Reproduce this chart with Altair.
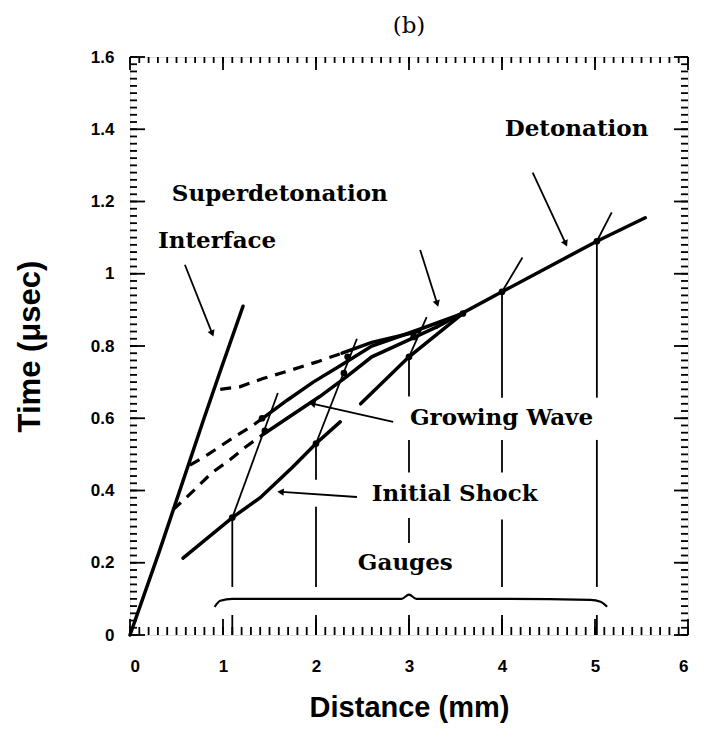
import math
import altair as alt
import pandas as pd

# ---------------- data (Distance mm, Time usec) ----------------
interface_x = [0.0, 0.32, 0.79, 0.97, 1.215]
interface_y = [0.0, 0.235, 0.595, 0.73, 0.91]

growA_x = [1.40, 1.69, 1.97, 2.26, 2.60, 3.10, 3.58]
growA_y = [0.595, 0.65, 0.70, 0.745, 0.80, 0.845, 0.89]
growB_x = [1.43, 1.69, 2.04, 2.33, 2.60, 2.94, 3.30]
growB_y = [0.555, 0.60, 0.66, 0.715, 0.77, 0.81, 0.853]
superC_x = [2.28, 2.60, 3.10]
superC_y = [0.78, 0.81, 0.84]

shock1_x = [0.57, 1.10, 1.40, 1.75, 2.00, 2.26]
shock1_y = [0.213, 0.325, 0.38, 0.465, 0.53, 0.59]
shock2_x = [2.48, 3.00, 3.58]
shock2_y = [0.64, 0.77, 0.89]

deton_x = [3.30, 4.00, 5.02, 5.54]
deton_y = [0.853, 0.95, 1.09, 1.155]

dash_lo_x = [0.46, 0.67, 0.88, 1.075, 1.24, 1.43]
dash_lo_y = [0.346, 0.396, 0.449, 0.485, 0.52, 0.555]
dash_mid_x = [0.645, 0.84, 1.15, 1.32, 1.40]
dash_mid_y = [0.47, 0.50, 0.553, 0.58, 0.595]
dash_up_x = [0.97, 1.18, 1.43, 1.69, 2.01, 2.28]
dash_up_y = [0.68, 0.687, 0.71, 0.73, 0.756, 0.78]

# gauges: positions, recorded arrival points, visible vertical pieces
gauge_x = [1.10, 2.00, 3.00, 4.00, 5.02]
gauge_t = [0.325, 0.53, 0.77, 0.95, 1.09]
gauge_pieces = [
    [(0.133, 0.325)],
    [(0.133, 0.355), (0.43, 0.53)],
    [(0.255, 0.324), (0.45, 0.54), (0.66, 0.77)],
    [(0.133, 0.32), (0.45, 0.54), (0.657, 0.95)],
    [(0.133, 0.54), (0.657, 1.09)],
]
# particle-path ticks through each gauge point
path_end_x = [1.59, 2.44, 3.19, 4.22, 5.18]
path_end_y = [0.67, 0.82, 0.88, 1.045, 1.17]

# extra crossing dots
cross_x = [1.45, 1.42, 2.30, 2.34, 3.05, 3.58]
cross_y = [0.565, 0.60, 0.725, 0.77, 0.825, 0.89]

# brace under the gauges
brace_x = [0.91, 0.97, 1.10, 2.00, 2.92, 3.00, 3.08, 4.00, 4.95, 5.06, 5.13]
brace_y = [0.078, 0.095, 0.100, 0.100, 0.100, 0.112, 0.100, 0.100, 0.097, 0.092, 0.078]

# annotation arrows (tail -> head)
arrow_names = ["Interface", "Superdetonation", "Detonation", "Growing Wave", "Initial Shock"]
arrow_x0 = [0.59, 3.12, 4.33, 2.83, 2.44]
arrow_y0 = [1.025, 1.066, 1.28, 0.59, 0.382]
arrow_x1 = [0.88, 3.30, 4.68, 1.97, 1.63]
arrow_y1 = [0.837, 0.92, 1.086, 0.64, 0.396]

# labels (left edge, vertical middle)
label_text = ["Superdetonation", "Interface", "Detonation", "Growing Wave", "Initial Shock", "Gauges"]
label_x = [0.45, 0.30, 4.03, 3.01, 2.60, 2.45]
label_y = [1.22, 1.09, 1.40, 0.60, 0.39, 0.20]

# axis ticks
x_major = [0, 1, 2, 3, 4, 5, 6]
y_major = [0, 0.2, 0.4, 0.6, 0.8, 1.0, 1.2, 1.4, 1.6]
x_minor = [round(i * 0.1, 2) for i in range(61)]
y_minor = [round(i * 0.02, 3) for i in range(81)]

# ---------------- build tables ----------------
W, H = 558, 578
XS = alt.Scale(domain=[0, 6], nice=False, zero=False)
YS = alt.Scale(domain=[0, 1.6], nice=False, zero=False)


def lines(named):
    rows = []
    for name, xs, ys in named:
        for i, (a, b) in enumerate(zip(xs, ys)):
            rows.append({"seg": name, "i": i, "x": a, "y": b})
    return pd.DataFrame(rows)


thick = lines([
    ("interface", interface_x, interface_y),
    ("growA", growA_x, growA_y),
    ("growB", growB_x, growB_y),
    ("superC", superC_x, superC_y),
    ("shock1", shock1_x, shock1_y),
    ("shock2", shock2_x, shock2_y),
    ("deton", deton_x, deton_y),
])
dashed = lines([
    ("lo", dash_lo_x, dash_lo_y),
    ("mid", dash_mid_x, dash_mid_y),
    ("up", dash_up_x, dash_up_y),
])
thin_list = []
for g, (gx, pieces) in enumerate(zip(gauge_x, gauge_pieces)):
    for k, (a, b) in enumerate(pieces):
        thin_list.append((f"g{g}_{k}", [gx, gx], [a, b]))
for g in range(len(gauge_x)):
    thin_list.append((f"p{g}", [gauge_x[g], path_end_x[g]], [gauge_t[g], path_end_y[g]]))
for k, n in enumerate(arrow_names):
    thin_list.append((f"a{k}", [arrow_x0[k], arrow_x1[k]], [arrow_y0[k], arrow_y1[k]]))
thin = lines(thin_list)
brace = lines([("brace", brace_x, brace_y)])

sx, sy = W / 6.0, H / 1.6
heads = pd.DataFrame({
    "x": arrow_x1, "y": arrow_y1,
    "ang": [(math.degrees(math.atan2((x1 - x0) * sx, (y1 - y0) * sy)) + 360) % 360
            for x0, y0, x1, y1 in zip(arrow_x0, arrow_y0, arrow_x1, arrow_y1)],
})
dots = pd.DataFrame({"x": gauge_x + cross_x, "y": gauge_t + cross_y})
labels = pd.DataFrame({"t": label_text, "x": label_x, "y": label_y})

axis_common = dict(ticks=False, domain=False, grid=False, labelColor="black",
                   titleColor="black", labelFont="Liberation Sans", labelFontWeight="bold",
                   labelFontSize=17, titleFont="Liberation Sans", titleFontWeight="bold",
                   format="~g")

X = alt.X("x:Q", scale=XS, axis=alt.Axis(values=x_major, title="Distance (mm)",
                                          labelPadding=23, titlePadding=19, titleFontSize=29,
                                          **axis_common))
Y = alt.Y("y:Q", scale=YS, axis=alt.Axis(values=y_major, title="Time (\u03bcsec)",
                                          labelPadding=16, titlePadding=44, titleFontSize=31,
                                          **axis_common))

l_thick = alt.Chart(thick).mark_line(color="black", strokeWidth=3.5, strokeCap="round").encode(
    x=X, y=Y, detail="seg:N", order="i:Q")
l_dash = alt.Chart(dashed).mark_line(color="black", strokeWidth=3.2, strokeDash=[11, 8]).encode(
    x=X, y=Y, detail="seg:N", order="i:Q")
l_thin = alt.Chart(thin).mark_line(color="black", strokeWidth=1.8).encode(
    x=X, y=Y, detail="seg:N", order="i:Q")
l_brace = alt.Chart(brace).mark_line(color="black", strokeWidth=2.2, interpolate="monotone").encode(
    x=X, y=Y, order="i:Q")
l_heads = alt.Chart(heads).mark_point(shape="triangle", filled=True, color="black", size=55, opacity=1).encode(
    x=X, y=Y, angle=alt.Angle("ang:Q", scale=None))
l_dots = alt.Chart(dots).mark_circle(color="black", size=45, opacity=1).encode(x=X, y=Y)
l_text = alt.Chart(labels).mark_text(align="left", baseline="middle", font="DejaVu Serif",
                                     fontWeight="bold", fontSize=23, color="black").encode(
    x=X, y=Y, text="t:N")

# inward ticks on all four sides
bx_major = pd.DataFrame({"x": x_major})
bx_minor = pd.DataFrame({"x": x_minor})
by_major = pd.DataFrame({"y": y_major})
by_minor = pd.DataFrame({"y": y_minor})
gx_df = pd.DataFrame({"x": gauge_x})
tk = dict(color="black", strokeWidth=1.8)
ticks = [
    alt.Chart(bx_minor).mark_rule(**tk).encode(x=X, y=alt.value(H), y2=alt.value(H - 8)),
    alt.Chart(bx_major).mark_rule(**tk).encode(x=X, y=alt.value(H), y2=alt.value(H - 16)),
    alt.Chart(gx_df).mark_rule(**tk).encode(x=X, y=alt.value(H), y2=alt.value(H - 20)),
    alt.Chart(bx_minor).mark_rule(**tk).encode(x=X, y=alt.value(0), y2=alt.value(6)),
    alt.Chart(bx_major).mark_rule(**tk).encode(x=X, y=alt.value(0), y2=alt.value(13)),
    alt.Chart(by_minor).mark_rule(**tk).encode(y=Y, x=alt.value(0), x2=alt.value(7)),
    alt.Chart(by_major).mark_rule(**tk).encode(y=Y, x=alt.value(0), x2=alt.value(15)),
    alt.Chart(by_minor).mark_rule(**tk).encode(y=Y, x=alt.value(W), x2=alt.value(W - 7)),
    alt.Chart(by_major).mark_rule(**tk).encode(y=Y, x=alt.value(W), x2=alt.value(W - 14)),
]

chart = alt.layer(l_thick, l_dash, l_thin, l_brace, l_heads, l_dots, l_text, *ticks).properties(
    width=W, height=H,
    title=alt.TitleParams(text="(b)", font="DejaVu Serif", fontSize=23, fontWeight="normal",
                          color="black", anchor="middle", offset=10),
    autosize=alt.AutoSizeParams(type="none"),
    padding={"left": 122, "top": 49, "right": 12, "bottom": 90},
).configure_view(stroke="black", strokeWidth=3).configure(background="white")

chart.save("out.html", embed_options={"renderer": "svg", "actions": False})
